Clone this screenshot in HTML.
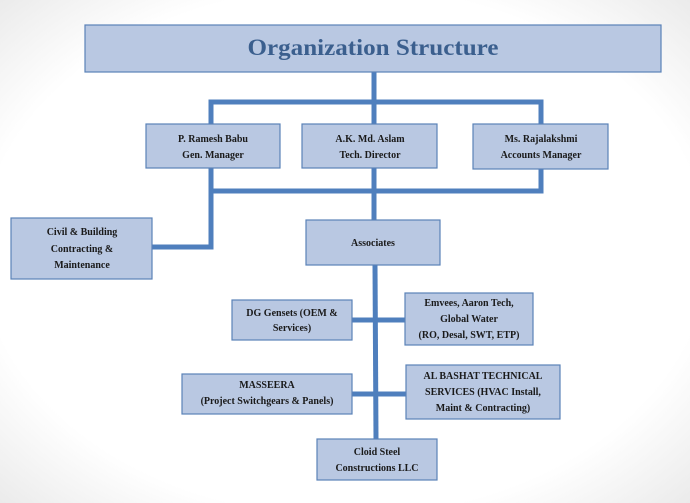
<!DOCTYPE html>
<html><head><meta charset="utf-8"><style>
html,body{margin:0;padding:0;width:690px;height:503px;overflow:hidden;background:#fff}
</style></head><body>
<svg width="690" height="503" xmlns="http://www.w3.org/2000/svg" font-family="Liberation Serif, serif">
<defs>
<radialGradient id="bg" cx="50%" cy="50%" r="75%">
<stop offset="70%" stop-color="#ffffff"/><stop offset="100%" stop-color="#e6e6e6"/>
</radialGradient>
</defs>
<rect width="690" height="503" fill="url(#bg)"/>
<g stroke="#4f7fbd" stroke-width="5" fill="none">
<line x1="374" y1="72" x2="374" y2="102"/>
<polyline points="211,124 211,102 541,102 541,124"/>
<line x1="374" y1="102" x2="374" y2="124"/>
<polyline points="211,168 211,191 541,191 541,169"/>
<line x1="374" y1="168" x2="374" y2="220"/>
<polyline points="211,191 211,247 152,247"/>
<line x1="375" y1="265" x2="376" y2="439"/>
<line x1="352" y1="320" x2="405" y2="320"/>
<line x1="352" y1="394" x2="406" y2="394"/>
</g>
<g fill="#b9c8e2" stroke="#5a82b8" stroke-width="1.2">
<rect x="85" y="25" width="576" height="47"/>
<rect x="146" y="124" width="134" height="44"/>
<rect x="302" y="124" width="135" height="44"/>
<rect x="473" y="124" width="135" height="45"/>
<rect x="11" y="218" width="141" height="61"/>
<rect x="306" y="220" width="134" height="45"/>
<rect x="232" y="300" width="120" height="40"/>
<rect x="405" y="293" width="128" height="52"/>
<rect x="182" y="374" width="170" height="40"/>
<rect x="406" y="365" width="154" height="54"/>
<rect x="317" y="439" width="120" height="41"/>
</g>
<text x="373" y="55" text-anchor="middle" font-size="23" font-weight="bold" fill="#3b5f8e" textLength="251" lengthAdjust="spacingAndGlyphs">Organization Structure</text>
<g font-size="10" font-weight="bold" fill="#1a1a1a" text-anchor="middle">
<text x="213" y="142">P. Ramesh Babu</text><text x="213" y="158">Gen. Manager</text>
<text x="370" y="142">A.K. Md. Aslam</text><text x="370" y="158">Tech. Director</text>
<text x="541" y="142">Ms. Rajalakshmi</text><text x="541" y="158">Accounts Manager</text>
<text x="82" y="235">Civil &amp; Building</text><text x="82" y="252">Contracting &amp;</text><text x="82" y="268">Maintenance</text>
<text x="373" y="246">Associates</text>
<text x="292" y="316">DG Gensets (OEM &amp;</text><text x="292" y="331">Services)</text>
<text x="469" y="306">Emvees, Aaron Tech,</text><text x="469" y="322">Global Water</text><text x="469" y="338">(RO, Desal, SWT, ETP)</text>
<text x="267" y="388">MASSEERA</text><text x="267" y="404">(Project Switchgears &amp; Panels)</text>
<text x="483" y="379">AL BASHAT TECHNICAL</text><text x="483" y="395">SERVICES (HVAC Install,</text><text x="483" y="411">Maint &amp; Contracting)</text>
<text x="377" y="455">Cloid Steel</text><text x="377" y="471">Constructions LLC</text>
</g>
</svg>
</body></html>
